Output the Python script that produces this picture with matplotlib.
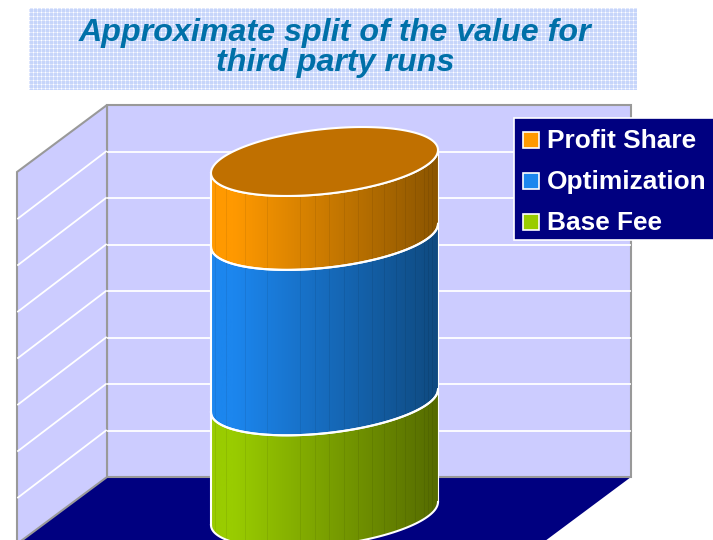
import numpy as np
import matplotlib.pyplot as plt
from matplotlib.colors import LinearSegmentedColormap
from matplotlib.patches import Polygon, Rectangle

title_lines = ['Approximate split of the value for', 'third party runs']
series = ['Base Fee', 'Optimization', 'Profit Share']
values = [32, 47, 21]
light = ['#99CC00', '#1C86EE', '#FF9900']
dark = ['#556B00', '#0F4A80', '#8B5500']
top_color = '#C07000'
grid_values = [0, 12.5, 25, 37.5, 50, 62.5, 75, 87.5, 100]
facets = [215, 226, 245, 267, 300, 315, 329, 344, 358, 372, 384, 396, 405, 415, 424, 428, 432]

WALL = '#CCCCFF'
NAVY = '#000080'
EDGE = '#999999'


# value on the chart to pixel row at the back wall
def y_back(v):
    return 477 - v * 3.72


# value to pixel row at the left edge of the cylinder
def y_cyl(v):
    return 525 - v * 3.52


def arc(y_left, n=80, front=True):
    t = np.linspace(np.pi, 0, n) if front else np.linspace(0, -np.pi, n)
    x = 324.5 + 113.5 * np.cos(t)
    y = y_left - 11.5 - 11.5 * np.cos(t) + 32.5 * np.sin(t)
    return x, y


fig = plt.figure(figsize=(7.13, 5.40), dpi=100)
ax = fig.add_axes([0, 0, 1, 1])
ax.axis('off')

# title band with the dotted fill, period of 4 pixels
rows, cols = np.indices((82, 608))
pattern = (rows % 4 == 0).astype(int) + (cols % 4 == 0).astype(int)
cmap_title = LinearSegmentedColormap.from_list('t', ['#C6D5FA', '#DFE7FD', '#FFFFFF'])
ax.imshow(pattern, extent=(29, 637, 90, 8), cmap=cmap_title, aspect='auto',
          interpolation='nearest', zorder=1)
ax.text(335, 33, title_lines[0], ha='center', va='center', fontsize=23.2, color='#0070A8',
        family='Liberation Sans', weight='bold', style='italic', zorder=2)
ax.text(335, 63, title_lines[1], ha='center', va='center', fontsize=23.2, color='#0070A8',
        family='Liberation Sans', weight='bold', style='italic', zorder=2)

# walls and floor
ax.add_patch(Polygon([(107, 477), (631, 477), (541, 544), (17, 544)], fc=NAVY, ec='none', zorder=1))
ax.add_patch(Polygon([(107, 105), (631, 105), (631, 477), (107, 477)], fc=WALL, ec=EDGE, lw=1.5, zorder=2))
ax.add_patch(Polygon([(17, 172), (107, 105), (107, 477), (17, 544)], fc=WALL, ec=EDGE, lw=1.5, zorder=2))
for v in grid_values[1:-1]:
    y = y_back(v)
    ax.plot([108, 630], [y, y], color='white', lw=1.3, zorder=3)
    ax.plot([18, 106], [y + 67, y], color='white', lw=1.3, zorder=3)

# stacked cylinder, one band per series
base = 0
for name, v, c0, c1 in zip(series, values, light, dark):
    y0, y1 = y_cyl(base), y_cyl(base + v)
    xa, ya = arc(y0)
    xb, yb = arc(y1)
    outline = np.vstack([np.column_stack([xa, ya]), np.column_stack([xb[::-1], yb[::-1]])])
    band = Polygon(outline, fc='none', ec='none', zorder=5)
    ax.add_patch(band)
    cm = LinearSegmentedColormap.from_list(name, [(0, c0), (0.1, c0), (1, c1)])
    grad = ax.imshow(np.linspace(0, 1, 256)[None, :], extent=(211, 438, 540, 100), cmap=cm,
                     aspect='auto', zorder=5)
    grad.set_clip_path(band)
    for fx in facets:
        line = ax.plot([fx, fx], [y1 - 40, y0 + 40], color='black', alpha=0.07, lw=0.7, zorder=6)[0]
        line.set_clip_path(band)
    ax.plot(xa, ya, color='white', lw=1.5, zorder=7)
    ax.plot(xb, yb, color='white', lw=1.5, zorder=7)
    ax.plot([211, 211], [y0, y1], color='white', lw=1.5, zorder=7)
    ax.plot([438, 438], [y0 - 23, y1 - 23], color='white', lw=0.8, zorder=7)
    base += v

# top face
xf, yf = arc(y_cyl(base))
xk, yk = arc(y_cyl(base), front=False)
ax.add_patch(Polygon(np.vstack([np.column_stack([xf, yf]), np.column_stack([xk, yk])]),
                     fc=top_color, ec='white', lw=1.5, zorder=8))

# legend
ax.add_patch(Rectangle((514, 118), 205, 122, fc=NAVY, ec='white', lw=1.2, zorder=9))
for name, c, y in zip(series, light, [222, 181, 140]):
    ax.add_patch(Rectangle((522.5, y - 8), 16, 16, fc=c, ec='white', lw=1.2, zorder=10))
    ax.text(547, y + 1, name, color='white', fontsize=18.9, weight='bold', family='Liberation Sans',
            va='center', ha='left', zorder=10)

ax.set_xlim(0, 713)
ax.set_ylim(540, 0)
fig.savefig('out.png', dpi=100)
